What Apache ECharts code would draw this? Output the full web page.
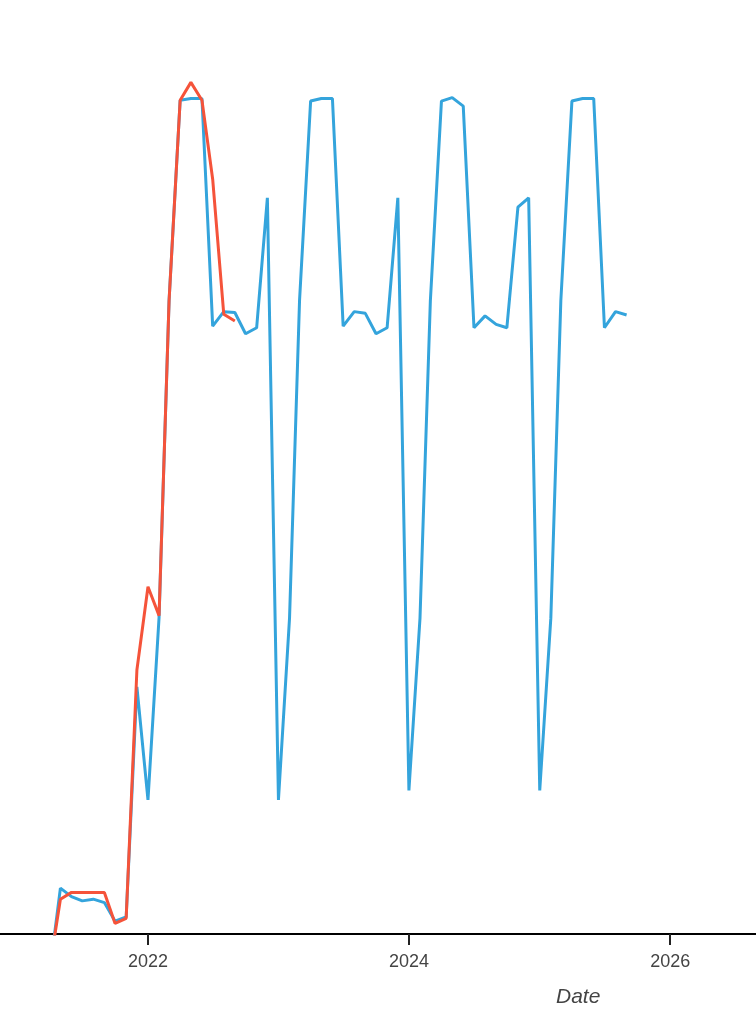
<!DOCTYPE html>
<html>
<head>
<meta charset="utf-8">
<script src="https://cdn.jsdelivr.net/npm/echarts@6/dist/echarts.min.js"></script>
<style>
html,body{margin:0;padding:0;background:#fff;}
#chart{width:756px;height:1018px;}
</style>
</head>
<body>
<div id="chart"></div>
<script>
// Monthly dates (first of month)
const blueDates = [
 '2021-04-01','2021-05-01','2021-06-01','2021-07-01','2021-08-01','2021-09-01','2021-10-01','2021-11-01','2021-12-01',
 '2022-01-01','2022-02-01','2022-03-01','2022-04-01','2022-05-01','2022-06-01','2022-07-01','2022-08-01','2022-09-01','2022-10-01','2022-11-01','2022-12-01',
 '2023-01-01','2023-02-01','2023-03-01','2023-04-01','2023-05-01','2023-06-01','2023-07-01','2023-08-01','2023-09-01','2023-10-01','2023-11-01','2023-12-01',
 '2024-01-01','2024-02-01','2024-03-01','2024-04-01','2024-05-01','2024-06-01','2024-07-01','2024-08-01','2024-09-01','2024-10-01','2024-11-01','2024-12-01',
 '2025-01-01','2025-02-01','2025-03-01','2025-04-01','2025-05-01','2025-06-01','2025-07-01','2025-08-01','2025-09-01'
];
const blueValues = [
 -4.5, 5.4, 4.4, 3.9, 4.1, 3.7, 1.5, 2.0, 29.1,
 15.8, 37.3, 74.6, 98.2, 98.4, 98.4, 71.6, 73.3, 73.2, 70.7, 71.4, 86.7,
 15.8, 37.2, 74.6, 98.1, 98.4, 98.4, 71.6, 73.3, 73.1, 70.7, 71.4, 86.7,
 16.9, 37.2, 74.6, 98.1, 98.5, 97.5, 71.4, 72.8, 71.8, 71.4, 85.6, 86.7,
 16.9, 37.2, 74.6, 98.1, 98.4, 98.4, 71.4, 73.3, 72.9
];
const redDates = [
 '2021-04-01','2021-05-01','2021-06-01','2021-07-01','2021-08-01','2021-09-01','2021-10-01','2021-11-01','2021-12-01',
 '2022-01-01','2022-02-01','2022-03-01','2022-04-01','2022-05-01','2022-06-01','2022-07-01','2022-08-01','2022-09-01'
];
const redValues = [
 -4.0, 4.1, 4.9, 4.9, 4.9, 4.9, 1.25, 1.85, 31.1,
 40.9, 37.5, 74.6, 98.2, 100.3, 98.2, 88.9, 73.0, 72.2
];
const tickYears = [2022, 2024, 2026];
const axisTitle = 'Date';

const toTs = d => Date.parse(d + 'T00:00:00Z');
const tickValues = tickYears.map(y => Date.UTC(y, 0, 1));
const blueData = blueDates.map((d, i) => [toTs(d), blueValues[i]]);
const redData = redDates.map((d, i) => [toTs(d), redValues[i]]);

const chart = echarts.init(document.getElementById('chart'), null, {renderer: 'canvas'});
chart.setOption({
  animation: false,
  backgroundColor: '#ffffff',
  grid: {left: 0, right: 0, top: 34, bottom: 84, containLabel: false},
  xAxis: {
    type: 'value',
    min: Date.UTC(2020, 10, 13),
    max: Date.UTC(2026, 7, 29),
    axisLine: {show: true, onZero: false, lineStyle: {color: '#000', width: 2}},
    axisTick: {show: true, length: 11, customValues: tickValues, lineStyle: {color: '#222', width: 2}},
    axisLabel: {
      show: true,
      customValues: tickValues,
      margin: 19,
      color: '#444',
      fontSize: 18,
      fontFamily: 'Liberation Sans, Arial, sans-serif',
      formatter: v => String(new Date(v).getUTCFullYear())
    },
    splitLine: {show: false},
    minorTick: {show: false}
  },
  yAxis: {
    type: 'value',
    min: 0,
    max: 106,
    show: false,
    splitLine: {show: false}
  },
  graphic: [{
    type: 'text',
    left: 556,
    top: 987,
    style: {text: axisTitle, font: 'italic 21px "Liberation Sans", Arial, sans-serif', fill: '#444'}
  }],
  series: [
    {
      type: 'line',
      data: blueData,
      showSymbol: false,
      clip: true,
      lineStyle: {color: '#34a4dc', width: 3},
      itemStyle: {color: '#34a4dc'}
    },
    {
      type: 'line',
      data: redData,
      showSymbol: false,
      clip: true,
      lineStyle: {color: '#f5533a', width: 3},
      itemStyle: {color: '#f5533a'}
    }
  ]
});
</script>
</body>
</html>
